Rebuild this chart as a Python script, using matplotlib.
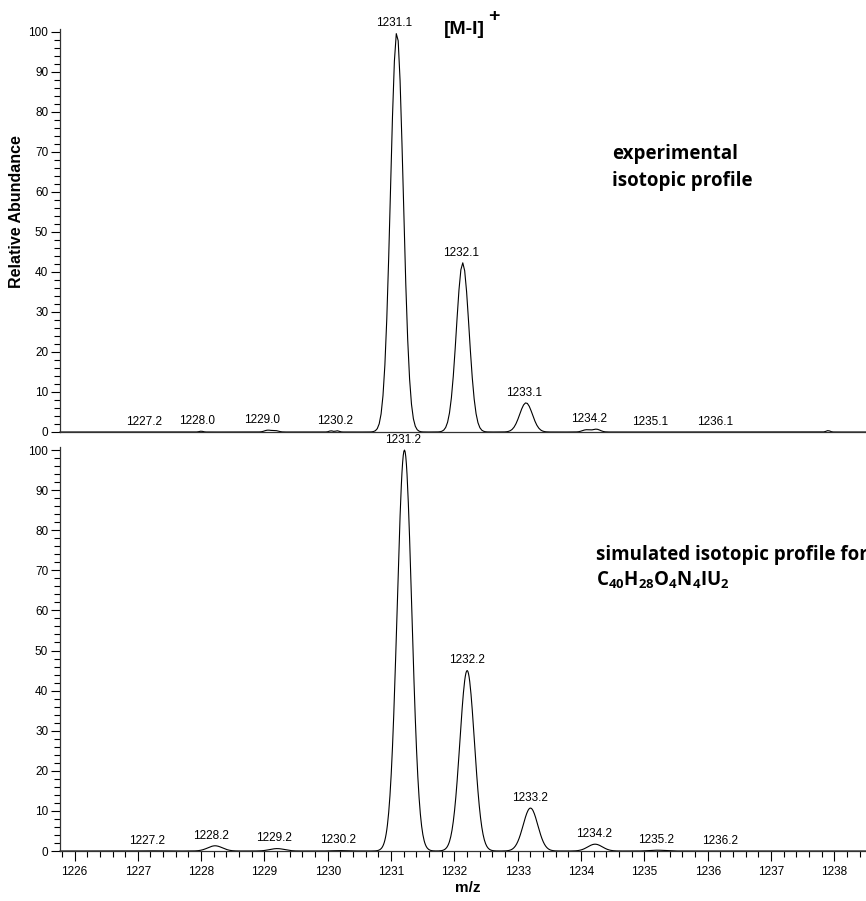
import numpy as np
import matplotlib
matplotlib.use("Agg")
import matplotlib.pyplot as plt
from matplotlib.ticker import MultipleLocator

plt.rcParams["font.family"] = ["Liberation Sans", "DejaVu Sans"]
plt.rcParams["mathtext.fontset"] = "custom"
plt.rcParams["mathtext.rm"] = "Open Sans"
plt.rcParams["mathtext.bf"] = "Open Sans:bold"

# experimental isotopic profile: peak centres, heights, widths (sigma)
exp_mz = [1228.0, 1229.05, 1229.17, 1230.05, 1230.15, 1231.09, 1232.13, 1233.13, 1234.08, 1234.24, 1237.9]
exp_int = [0.2, 0.45, 0.35, 0.3, 0.3, 100.0, 42.3, 7.3, 0.55, 0.7, 0.35]
exp_sig = [0.03, 0.05, 0.05, 0.03, 0.03, 0.10, 0.10, 0.10, 0.06, 0.06, 0.03]

# simulated isotopic profile
sim_mz = [1227.2, 1228.22, 1229.2, 1230.2, 1231.21, 1232.2, 1233.2, 1234.22, 1235.2, 1236.2]
sim_int = [0.05, 1.3, 0.6, 0.1, 100.0, 45.0, 10.7, 1.7, 0.2, 0.03]
sim_sig = [0.115, 0.115, 0.115, 0.115, 0.115, 0.115, 0.115, 0.115, 0.115, 0.115]

# peak labels
top_labels = ["1227.2", "1228.0", "1229.0", "1230.2", "1231.1", "1232.1", "1233.1", "1234.2", "1235.1", "1236.1"]
top_label_x = [1227.10, 1227.93, 1228.96, 1230.12, 1231.05, 1232.10, 1233.10, 1234.13, 1235.09, 1236.11]
bot_labels = ["1227.2", "1228.2", "1229.2", "1230.2", "1231.2", "1232.2", "1233.2", "1234.2", "1235.2", "1236.2"]
bot_label_x = [1227.14, 1228.16, 1229.15, 1230.16, 1231.18, 1232.20, 1233.20, 1234.20, 1235.19, 1236.19]

W, H = 866, 901
XMIN, XMAX = 1225.771, 1238.498


def profile(mz, inten, sig, step):
    x = np.arange(XMIN, XMAX + step, step)
    y = np.zeros_like(x)
    for m, a, s in zip(mz, inten, sig):
        y += a * np.exp(-0.5 * ((x - m) / s) ** 2)
    return x, y


fig = plt.figure(figsize=(W / 100, H / 100), dpi=100)
ax1 = fig.add_axes([60 / W, (H - 432) / H, 1 - 60 / W, 403 / H])
ax2 = fig.add_axes([60 / W, (H - 851) / H, 1 - 60 / W, 404 / H])

panels = [
    (ax1, profile(exp_mz, exp_int, exp_sig, 0.03), top_labels, top_label_x),
    (ax2, profile(sim_mz, sim_int, sim_sig, 0.01), bot_labels, bot_label_x),
]

for ax, (x, y), labels, lx in panels:
    ax.plot(x, y, color="black", lw=0.8, clip_on=False)
    ax.set_xlim(XMIN, XMAX)
    ax.set_ylim(0, 100.75)
    for s in ["top", "right"]:
        ax.spines[s].set_visible(False)
    for s in ["left", "bottom"]:
        ax.spines[s].set_linewidth(0.9)
        ax.spines[s].set_color("#333333")
    ax.yaxis.set_major_locator(MultipleLocator(10))
    ax.yaxis.set_minor_locator(MultipleLocator(2))
    ax.tick_params(axis="y", which="major", direction="out", length=6.5, width=0.8, labelsize=8.5, pad=2)
    ax.tick_params(axis="y", which="minor", direction="out", length=4, width=0.8)
    for t, xx in zip(labels, lx):
        near = np.abs(x - xx) < 0.12
        h = y[near].max() if near.any() else 0
        ax.annotate(t, (xx, h), xytext=(0, 3), textcoords="offset points",
                    ha="center", va="bottom", fontsize=8.5)

ax1.tick_params(axis="x", which="both", bottom=False, labelbottom=False)
ax2.xaxis.set_major_locator(MultipleLocator(1))
ax2.xaxis.set_minor_locator(MultipleLocator(0.2))
ax2.tick_params(axis="x", which="major", direction="out", length=7, width=0.8, labelsize=8.5, pad=4)
ax2.tick_params(axis="x", which="minor", direction="out", length=4.5, width=0.8)


def px(xp, yp):
    return xp / W, 1 - yp / H


fig.text(*px(17, 212), "Relative Abundance", rotation=90, ha="center", va="center",
         fontsize=11.5, fontweight="bold")
fig.text(*px(468, 892), "m/z", ha="center", va="baseline", fontsize=11, fontweight="bold")

fig.text(*px(444, 34), "[M-I]", ha="left", va="baseline", fontsize=14, fontweight="bold")
fig.text(*px(488, 21), "+", ha="left", va="baseline", fontsize=14, fontweight="bold")

fig.text(*px(612, 159), "experimental", ha="left", va="baseline", fontsize=13.5,
         fontweight="bold", family="Open Sans")
fig.text(*px(612, 186), "isotopic profile", ha="left", va="baseline", fontsize=13.5,
         fontweight="bold", family="Open Sans")
fig.text(*px(596, 560), "simulated isotopic profile for", ha="left", va="baseline", fontsize=13.5,
         fontweight="bold", family="Open Sans")
fig.text(*px(596, 586), r"$\mathbf{C_{40}H_{28}O_{4}N_{4}IU_{2}}$", ha="left", va="baseline",
         fontsize=13.5)

fig.savefig("out.png", dpi=100)
